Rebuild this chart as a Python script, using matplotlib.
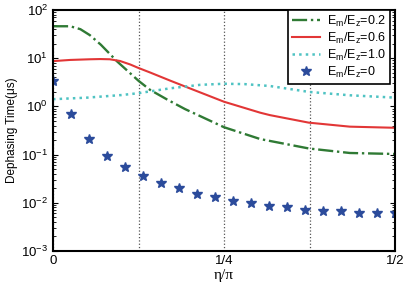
import numpy as np
import matplotlib
matplotlib.use("Agg")
import matplotlib.pyplot as plt

plt.rcParams['font.family'] = ['Liberation Sans', 'DejaVu Sans']
plt.rcParams['mathtext.fontset'] = 'custom'
plt.rcParams['mathtext.rm'] = 'Liberation Sans'
plt.rcParams['mathtext.it'] = 'Liberation Sans'

# Em/Ez = 0.2 (green dash-dot)
eta_02 = [0, 0.025, 0.04, 0.054, 0.07, 0.094, 0.125, 0.142, 0.168, 0.193,
          0.215, 0.25, 0.303, 0.374, 0.434, 0.5]
t_02 = [46, 46, 40, 30, 19, 8.5, 3.4, 2.2, 1.36, 0.88,
        0.63, 0.37, 0.21, 0.134, 0.108, 0.103]

# Em/Ez = 0.6 (red solid)
eta_06 = [0, 0.025, 0.054, 0.069, 0.083, 0.098, 0.113, 0.124, 0.142, 0.171,
          0.193, 0.25, 0.303, 0.317, 0.374, 0.434, 0.5]
t_06 = [8.7, 9.2, 9.5, 9.6, 9.5, 8.75, 7.4, 6.35, 5.05, 3.44,
        2.59, 1.25, 0.74, 0.66, 0.46, 0.38, 0.36]

# Em/Ez = 1.0 (cyan dotted)
eta_10 = [0, 0.05, 0.1, 0.125, 0.142, 0.171, 0.215, 0.25, 0.28, 0.317,
          0.374, 0.434, 0.5]
t_10 = [1.41, 1.52, 1.72, 1.88, 2.05, 2.37, 2.8, 2.95, 2.9, 2.65,
        2.0, 1.7, 1.52]

# Em/Ez = 0 (stars)
eta_0 = np.linspace(0, 0.5, 20)
t_0 = [3.4, 0.695, 0.207, 0.095, 0.056, 0.0365, 0.026, 0.020, 0.0155, 0.013,
       0.011, 0.0098, 0.0086, 0.0081, 0.0071, 0.0066, 0.0066, 0.0062, 0.0062, 0.0062]

xticks = [0, 0.125, 0.25, 0.375, 0.5]
xticklabels = ['0', '', '1/4', '', '1/2']

fig = plt.figure(figsize=(4.09, 2.88), dpi=100)
ax = fig.add_axes([53/409, 1 - 251/288, 342/409, 241/288])

ax.plot(eta_02, t_02, linestyle='-.', color='#2f7a34', lw=1.7, label='E$_m$/E$_z$=0.2')
ax.plot(eta_06, t_06, linestyle='-', color='#e23636', lw=1.5, label='E$_m$/E$_z$=0.6')
ax.plot(eta_10, t_10, linestyle=':', color='#4fc3c3', lw=1.8, label='E$_m$/E$_z$=1.0')
ax.plot(eta_0, t_0, linestyle='none', marker='*', ms=7, color='#2b4b9b',
        label='E$_m$/E$_z$=0')

ax.set_yscale('log')
ax.set_ylim(1e-3, 1e2)
ax.set_xlim(0, 0.5)
ax.set_xticks(xticks)
ax.set_xticklabels(xticklabels)
ax.grid(axis='x', linestyle=':', color='#555555', lw=0.9)

ax.tick_params(which='both', direction='in', top=True, right=True, labelsize=9.5)
ax.tick_params(axis='x', which='major', length=0, pad=3)
for s in ax.spines.values():
    s.set_linewidth(1.5)

ax.set_ylabel('Dephasing Time(\u03bcs)', fontsize=8.5, labelpad=2)
ax.set_xlabel('\u03b7/\u03c0', fontsize=11, family=['Liberation Serif', 'DejaVu Serif'], labelpad=1)

leg = ax.legend(loc='upper right', bbox_to_anchor=(0.985, 1.0), borderaxespad=0,
                fontsize=9, fancybox=False, framealpha=1, edgecolor='black',
                handlelength=2.2, labelspacing=0.15, borderpad=0.3, handletextpad=0.6)
leg.get_frame().set_linewidth(1.2)

plt.savefig("out.png", dpi=100)
